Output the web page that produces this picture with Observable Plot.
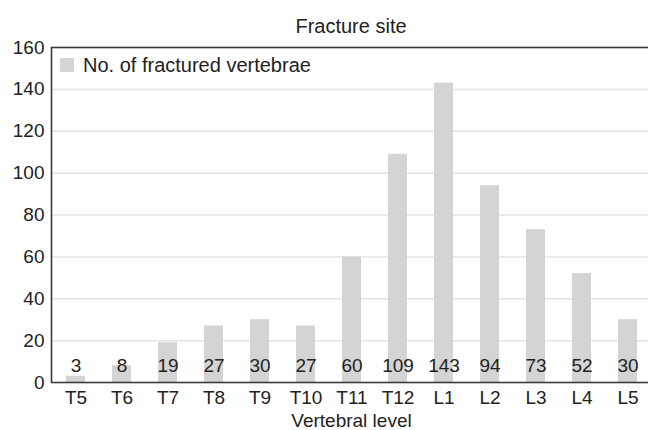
<!DOCTYPE html>
<html>
<head>
<meta charset="utf-8">
<script src="https://cdn.jsdelivr.net/npm/d3@7"></script>
<script src="https://cdn.jsdelivr.net/npm/@observablehq/plot@0.6"></script>
<style>
  html, body { margin: 0; padding: 0; background: #fff; }
  body { width: 648px; height: 430px; position: relative; overflow: hidden; font-family: "Liberation Sans", Arial, sans-serif; color: #222; }
  #title { box-sizing: border-box; height: 37px; padding-top: 16px; padding-left: 51px; width: 651px; text-align: center; font-size: 20px; line-height: 20px; }
  #legend { position: absolute; left: 60px; top: 55px; height: 20px; display: flex; align-items: center; font-size: 20px; line-height: 20px; }
  #legend .sw { width: 14px; height: 14px; background: #d4d4d4; margin-right: 9px; }
  #chart { position: absolute; left: 0; top: 37px; }
</style>
</head>
<body>
<div id="title">Fracture site</div>
<div id="chart"></div>
<div id="legend"><span class="sw"></span><span>No. of fractured vertebrae</span></div>
<script>
const levels = ["T5", "T6", "T7", "T8", "T9", "T10", "T11", "T12", "L1", "L2", "L3", "L4", "L5"];
const counts = [3, 8, 19, 27, 30, 27, 60, 109, 143, 94, 73, 52, 30];
const yTicks = [0, 20, 40, 60, 80, 100, 120, 140, 160];
const xLabel = "Vertebral level";

const data = levels.map((level, i) => ({level, count: counts[i]}));

const chart = Plot.plot({
  width: 648,
  height: 393,
  marginTop: 10,
  marginBottom: 48,
  marginLeft: 51,
  marginRight: -3,
  style: {fontFamily: "Liberation Sans, Arial, sans-serif", fontSize: "19px", color: "#222", background: "transparent"},
  x: {domain: levels, paddingInner: 0.59, paddingOuter: 0.295, label: null},
  y: {domain: [0, 160], label: null},
  marks: [
    Plot.gridY(yTicks.filter(t => t > 0 && t < 160), {stroke: "#e4e4e4", strokeOpacity: 1, strokeWidth: 1.5}),
    Plot.barY(data, {x: "level", y: "count", fill: "#d4d4d4"}),
    Plot.text(data, {x: "level", text: d => String(d.count), frameAnchor: "bottom", lineAnchor: "middle", dy: -17, fontSize: 19, fill: "#222"}),
    Plot.frame({stroke: "#3a3a3a", strokeWidth: 1.6}),
    Plot.axisY({ticks: yTicks, tickSize: 0, tickPadding: 7, fontSize: 19, label: null}),
    Plot.axisX({tickSize: 0, tickPadding: 8, fontSize: 19, label: null}),
    Plot.text([xLabel], {text: d => d, frameAnchor: "bottom", lineAnchor: "middle", dy: 38, fontSize: 19, fill: "#222"})
  ]
});
document.getElementById("chart").appendChild(chart);
</script>
</body>
</html>
